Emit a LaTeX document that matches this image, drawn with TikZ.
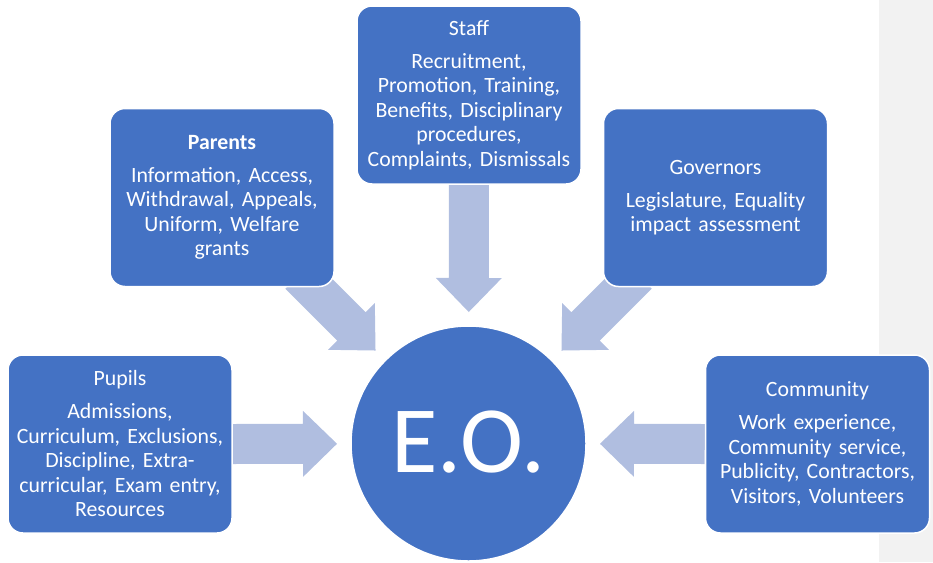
\documentclass[tikz,border=0pt]{standalone}
\usepackage{fontspec}
\setmainfont{Carlito}
\usetikzlibrary{calc,backgrounds}
\definecolor{boxblue}{HTML}{4472C4}
\definecolor{arrowblue}{RGB}{176,190,224}
\definecolor{bandgray}{HTML}{F2F2F2}
\newcommand{\blockarrow}[2]{%
  \coordinate (hb) at ($(#2)!34pt!(#1)$);
  \fill[arrowfill] ($(#1)!20pt!90:(#2)$) -- ($(hb)!20pt!90:(#2)$) -- ($(hb)!33pt!90:(#2)$) -- (#2)
    -- ($(hb)!33pt!-90:(#2)$) -- ($(hb)!20pt!-90:(#2)$) -- ($(#1)!20pt!-90:(#2)$) -- cycle;
}
\tikzset{
  arrowfill/.style={fill=arrowblue},
  topicbox/.style={rectangle, rounded corners=15pt, fill=boxblue, draw=white, line width=1.5pt,
    minimum width=224pt, minimum height=178pt, text width=222pt, align=center, text=white,
    inner sep=0pt, font=\fontsize{21.8}{24.5}\selectfont},
  centre/.style={circle, fill=boxblue, draw=white, line width=1.5pt, minimum size=235pt,
    inner sep=0pt, text=white, font=\fontsize{95}{95}\selectfont}
}
\begin{document}
\begin{tikzpicture}[x=1pt,y=-1pt]
\useasboundingbox (0,0) rectangle (933,562);
\fill[bandgray] (879,0) rectangle (933,562);

\node[topicbox] (pupils) at (120,444) {Pupils\\[8.5pt]Admissions,\\Curriculum, Exclusions,\\Discipline, Extra-\\curricular, Exam entry,\\Resources};
\node[topicbox] (parents) at (222,197.5) {\textbf{Parents}\\[8.5pt]Information, Access,\\Withdrawal, Appeals,\\Uniform, Welfare\\grants};
\node[topicbox] (staff) at (469,95) {Staff\\[8.5pt]Recruitment,\\Promotion, Training,\\Benefits, Disciplinary\\procedures,\\Complaints, Dismissals};
\node[topicbox] (governors) at (715.5,197.5) {Governors\\[8.5pt]Legislature, Equality\\impact assessment};
\node[topicbox] (community) at (817.5,444) {Community\\[8.5pt]Work experience,\\Community service,\\Publicity, Contractors,\\Visitors, Volunteers};
\node[centre] (eo) at (468.5,443.5) {\raisebox{3pt}{E.O.}};

\coordinate (pupS) at (pupils.east);
\coordinate (comS) at (community.west);
\coordinate (stfS) at (469,180);
\coordinate (parS) at (299.5,274.5);
\coordinate (govS) at (637.5,274.5);
\coordinate (pupT) at ($(eo.center)!131.5pt!(pupS)$);
\coordinate (comT) at ($(eo.center)!131.5pt!(comS)$);
\coordinate (stfT) at ($(eo.center)!131.5pt!(stfS)$);
\coordinate (parT) at ($(eo.center)!131.5pt!(parS)$);
\coordinate (govT) at ($(eo.center)!131.5pt!(govS)$);

\begin{scope}[on background layer]
\blockarrow{pupS}{pupT}
\blockarrow{comS}{comT}
\blockarrow{stfS}{stfT}
\blockarrow{parS}{parT}
\blockarrow{govS}{govT}
\end{scope}
\end{tikzpicture}
\end{document}
